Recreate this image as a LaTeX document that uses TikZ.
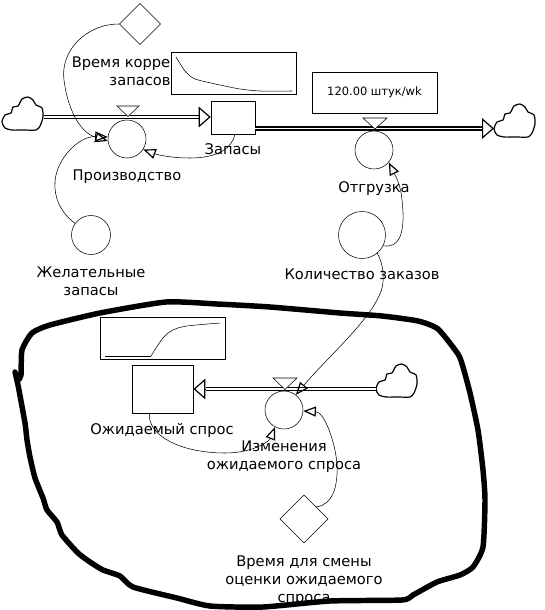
\documentclass[tikz,border=0pt]{standalone}
\usepackage{fontspec}
\setmainfont{DejaVu Sans}
\usetikzlibrary{arrows.meta,shapes.geometric}
\tikzset{
  x=.75pt,y=-.75pt,line width=.9pt,line join=miter,
  conv/.style={circle,draw,fill=white,inner sep=0pt,minimum size=#1*.75pt},
  lvl/.style={diamond,draw,fill=white,inner sep=0pt,minimum size=#1*.75pt},
  stockbox/.style={draw,fill=white,inner sep=0pt,minimum width=#1},
  lab/.style={font=\fontsize{11pt}{13.5pt}\selectfont,align=center,inner sep=0pt},
  graphbox/.style={draw,fill=white},
  flow/.style={double,double distance=1.3pt,line width=.9pt},
  head/.style={-{Triangle[open,fill=white,length=9pt,width=15.5pt,line width=.9pt]}},
  link/.style={-{Triangle[open,length=9.5pt,width=7.5pt,line width=.9pt]}},
  cloudshape/.style={draw,fill=white,line width=.9pt},
  blob/.style={line width=4.1pt,line join=round,line cap=round},
}
\newcommand{\cloudat}[2]{%
  \draw[cloudshape,shift={(#1,#2)}] plot[smooth cycle,tension=.45] coordinates
   {(0,25) (3,31) (10,33) (22,33) (34,33) (38,29) (41,20) (40,11) (34,8) (31,3) (26,0) (20,2) (16,9) (11,10) (9,16) (3,18)};}
\begin{document}
\begin{tikzpicture}
\useasboundingbox (0,0) rectangle (544,610);
% hand-drawn boundary
\draw[blob] plot[smooth,tension=.35] coordinates {(15,372) (18,385) (25,423) (27,440) (30,457) (35,478) (43,498) (47,510) (57,522) (62,535) (78,553) (90,562) (103,570) (120,576) (133,587) (177,598) (210,606) (263,607) (330,601) (402,600) (413,595) (437,582) (460,575) (473,567) (483,547) (485,500) (483,470) (478,430) (470,393) (463,367) (458,354) (438,329) (418,321) (382,316) (340,313) (270,307) (217,304) (166,302) (100,313) (50,325) (32,333) (22,350) (21,375) (18,380) (15,372)};
% labels
\node[lab] (lt) at (140,71) {Время коррекции\\запасов};
\node[lab] (lz) at (233,149) {Запасы};
\node[lab] (lp) at (127,177) {Производство};
\node[lab] (lo) at (374,189) {Отгрузка};
\node[lab] (lk) at (362,274) {Количество заказов};
\node[lab] (lj) at (91,281) {Желательные\\запасы};
\node[lab] (le) at (162,430) {Ожидаемый спрос};
\node[lab] (li) at (284,457) {Изменения\\ожидаемого спроса};
\node[lab] (lv) at (304,580.5) {Время для смены\\оценки ожидаемого\\спроса};
% graph boxes
\node[graphbox,minimum width=93.75pt,minimum height=31.5pt,inner sep=0pt] (g1) at (233.5,73) {};
\draw plot[smooth,tension=.4] coordinates {(176,57) (185,71) (195,79) (220,85) (240,89) (260,91) (292,91)};
\node[graphbox,minimum width=93.75pt,minimum height=31.5pt,inner sep=0pt] (g2) at (162.5,338) {};
\draw (105,356) -- (151,356);
\draw plot[smooth,tension=.5] coordinates {(151,356) (163,338) (173,330) (187,326) (220,323)};
\node[graphbox,minimum width=93.75pt,minimum height=31pt,inner sep=0pt,font=\fontsize{8.6pt}{10pt}\selectfont] (g3) at (374.5,92.5) {120.00 штук/wk};
% clouds
\cloudat{2}{97}
\cloudat{494}{104}
\cloudat{376}{364}
\coordinate (c1) at (43.5,117);
\coordinate (c2) at (494,128.5);
\coordinate (c3) at (376,389);
% stocks
\node[stockbox=33pt,minimum height=24.75pt] (s1) at (233,117.5) {};
\node[stockbox=46pt,minimum height=36pt] (s2) at (162.5,389) {};
% flows
\coordinate (fb1) at (201,117);
\coordinate (fb2) at (483,128.5);
\coordinate (fb3) at (206,389);
\coordinate (s1e) at (255,128.5);
\draw[flow] (c1) -- (fb1);
\draw[flow] (s1e) -- (fb2);
\draw[flow] (c3) -- (fb3);
\draw[head] (fb1) -- (s1.west |- fb1);
\draw[head] (fb2) -- (c2);
\draw[head] (fb3) -- (s2.east |- fb3);
% valves
\draw[fill=white] (117,106) -- (139,106) -- (128,116.5) -- cycle;
\draw[fill=white] (363,118) -- (387,118) -- (375,129) -- cycle;
\draw[fill=white] (273,378) -- (297,378) -- (285,389.5) -- cycle;
% converters
\node[conv=38] (vp) at (127,139) {};
\node[conv=38] (vo) at (374,150) {};
\node[conv=47] (vk) at (362,235) {};
\node[conv=39] (vj) at (91,235) {};
\node[conv=38] (vi) at (284,410) {};
\node[lvl=41] (d1) at (140,24) {};
\node[lvl=48] (d2) at (304,519) {};
% links
\draw[link] (d1.west) .. controls (85,24) and (60,52) .. (64,80) .. controls (67,105) and (78,132) .. (vp.186);
\draw[link] (vj.144) .. controls (60,212) and (54,197) .. (55,182) .. controls (56,160) and (78,136) .. (vp.174);
\draw[link] (s1.south) ++(2,0) .. controls (232,148) and (218,158) .. (190,158) .. controls (172,158) and (158,155) .. (vp.-33);
\draw[link] (vk.-27) .. controls (408,250) and (403,210) .. (402,200) .. controls (401,185) and (395,175) .. (vo.-40);
\draw[link] (vk.-50) .. controls (384,265) and (386,285) .. (378,298) .. controls (365,325) and (325,360) .. (vi.52);
\draw[link] (s2.south) ++(-13,0) .. controls (147,435) and (180,453) .. (225,453) .. controls (255,453) and (270,440) .. (vi.-118);
\draw[link] (d2.north east) ++(0,0) .. controls (332,505) and (338,488) .. (337,465) .. controls (336,445) and (325,412) .. (vi.-3);
\end{tikzpicture}
\end{document}
